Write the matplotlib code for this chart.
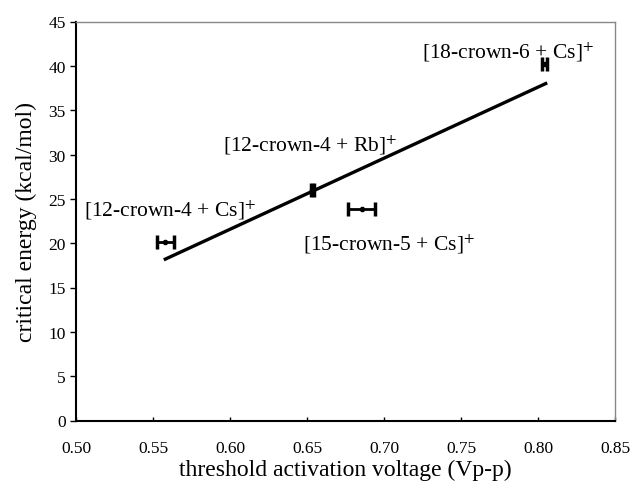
import numpy as np
import matplotlib
matplotlib.use("Agg")
import matplotlib.pyplot as plt

plt.rcParams['font.family'] = ['Liberation Serif', 'DejaVu Serif']
plt.rcParams['mathtext.fontset'] = 'stix'

# data
labels = [r'[12-crown-4 + Cs]$^{+}$', r'[12-crown-4 + Rb]$^{+}$',
          r'[15-crown-5 + Cs]$^{+}$', r'[18-crown-6 + Cs]$^{+}$']
voltage = [0.558, 0.6535, 0.6855, 0.8045]
volt_err = [0.0055, 0.0008, 0.0087, 0.0016]
energy = [20.1, 26.0, 23.9, 40.2]

# fitted line endpoints
fit_x = [0.558, 0.805]
fit_y = [18.2, 38.0]

# label positions (data coords, left edge / vertical centre)
label_x = [0.5055, 0.5955, 0.6475, 0.7245]
label_y = [23.8, 31.2, 20.0, 41.6]

fig = plt.figure(figsize=(6.31, 4.85), dpi=100)
ax = fig.add_axes([76/631, 1 - 421.5/485, (615-76)/631, (421.5-22.5)/485])

ax.plot(fit_x, fit_y, color='black', lw=2.4)
ax.errorbar(voltage, energy, xerr=volt_err, fmt='o', ms=3,
            color='black', ecolor='black', elinewidth=2, capsize=5, capthick=2.5)

for lab, lx, ly in zip(labels, label_x, label_y):
    ax.text(lx, ly, lab, fontsize=15.5, ha='left', va='center')

ax.set_xlim(0.50, 0.85)
ax.set_ylim(0, 45)
xt = np.arange(0.50, 0.851, 0.05)
ax.set_xticks(xt)
ax.set_xticklabels(['%.2f' % v for v in xt])
ax.set_yticks(range(0, 46, 5))
ax.tick_params(labelsize=12.5, width=1)
ax.tick_params(axis='y', direction='out', length=4)
ax.tick_params(axis='x', direction='in', length=3, pad=14)
ax.set_xlabel('threshold activation voltage (Vp-p)', fontsize=17, labelpad=2)
ax.set_ylabel('critical energy (kcal/mol)', fontsize=17, labelpad=8)

for s in ['top', 'right']:
    ax.spines[s].set_color('#888888')
    ax.spines[s].set_linewidth(1)
for s in ['left', 'bottom']:
    ax.spines[s].set_linewidth(1.5)

fig.savefig('out.png', dpi=100)
